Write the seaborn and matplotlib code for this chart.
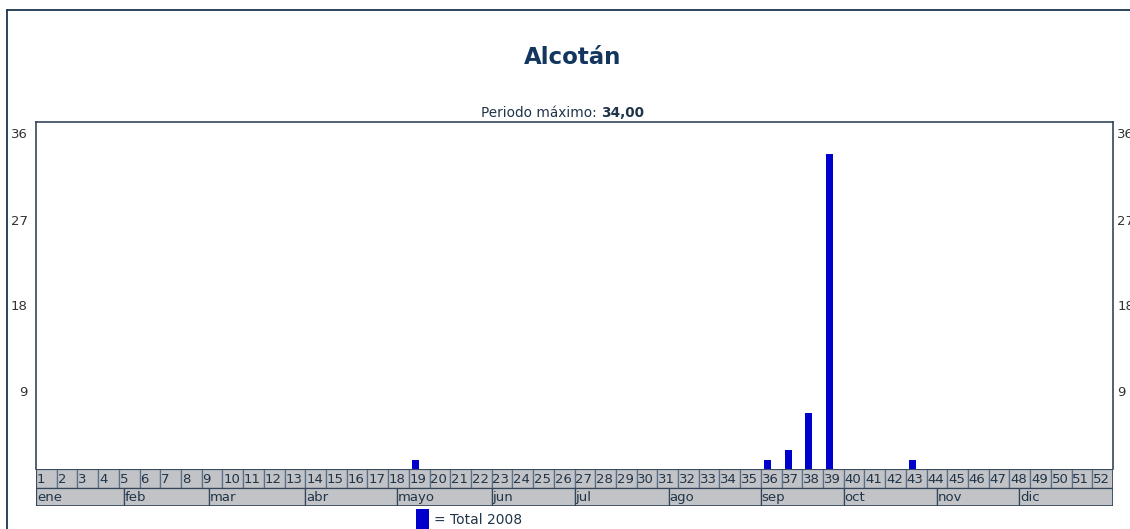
import numpy as np
import pandas as pd
import seaborn as sns
import matplotlib
matplotlib.use("Agg")
import matplotlib.pyplot as plt
from matplotlib.patches import Rectangle
from matplotlib.lines import Line2D

# ---------------- data ----------------
title = "Alcotán"
series_label = "= Total 2008"
max_label = "Periodo máximo: "
max_value = "34,00"
weeks = list(range(1, 53))
obs = {19: 1, 36: 1, 37: 2, 38: 6, 39: 34, 43: 1}
values = [obs.get(w, 0) for w in weeks]
y_ticks = [9, 18, 27, 36]
months = ["ene", "feb", "mar", "abr", "mayo", "jun", "jul", "ago", "sep", "oct", "nov", "dic"]
# month starts expressed in week-axis units (cell k spans k-0.5 .. k+0.5)
month_starts = [0.5, 4.76, 8.83, 13.5, 17.95, 22.5, 26.5, 31.05, 35.5, 39.5, 44.0, 47.98]

# ---------------- style ----------------
W, H = 1130, 529
BAR_COLOR = "#0000CC"
NAVY = "#1b3550"
BORDER = "#34465c"
CELL = "#c2c3c6"
TEXT = "#203448"
LABEL_DROP = {36: 0, 27: 2.5, 18: 3.6, 9: 4.7}  # label offset in points

sns.set_theme(style="white")
plt.rcParams["font.family"] = ["DejaVu Sans"]

fig = plt.figure(figsize=(W / 100, H / 100), dpi=100)
fig.patch.set_facecolor("white")

def fx(px):
    return px / W

def fy(py):
    return 1 - py / H

left_px, right_px, top_px, bot_px = 36, 1113, 122, 469
ax = fig.add_axes([fx(left_px), fy(bot_px), fx(right_px - left_px), (bot_px - top_px) / H])

df = pd.DataFrame({"week": weeks, "value": values})
df["pos"] = df["week"] - 0.19
sns.barplot(data=df, x="pos", y="value", native_scale=True, width=0.34,
            color=BAR_COLOR, saturation=1, linewidth=0, ax=ax)

ax.set_xlim(0.5, 52.5)
ax.set_ylim(0, 37.4)
ax.set_xticks([])
ax.set_yticks([])
ax.set_xlabel("")
ax.set_ylabel("")
for s in ["left", "top", "right"]:
    ax.spines[s].set_visible(True)
    ax.spines[s].set_color(BORDER)
    ax.spines[s].set_linewidth(1.2)
ax.spines["bottom"].set_visible(False)

# y labels on both sides (offset slightly down like the reference)
for t in y_ticks:
    d = LABEL_DROP[t]
    ax.annotate(str(t), xy=(0, t), xycoords=("axes fraction", "data"),
                xytext=(-6, -d), textcoords="offset points",
                ha="right", va="center", fontsize=9.5, color="#333333")
    ax.annotate(str(t), xy=(1, t), xycoords=("axes fraction", "data"),
                xytext=(3, -d), textcoords="offset points",
                ha="left", va="center", fontsize=9.5, color="#333333",
                annotation_clip=False)

# ---------------- week / month table ----------------
tab_top, tab_bot = 469, 506
tax = fig.add_axes([fx(left_px), fy(tab_bot), fx(right_px - left_px), (tab_bot - tab_top) / H])
tax.set_xlim(0.5, 52.5)
tax.set_ylim(0, 2)
tax.axis("off")
for w in weeks:
    tax.add_patch(Rectangle((w - 0.5, 1), 1, 1, facecolor=CELL, edgecolor="#5a6f88",
                            linewidth=0.9))
    tax.text(w - 0.46, 1.45, str(w), ha="left", va="center", fontsize=9.5, color=TEXT)
ends = month_starts[1:] + [52.5]
for m, s, e in zip(months, month_starts, ends):
    tax.add_patch(Rectangle((s, 0), e - s, 1, facecolor=CELL, edgecolor=BORDER,
                            linewidth=0.9))
    tax.text(s + 0.04, 0.45, m, ha="left", va="center", fontsize=9.5, color=TEXT)
tax.add_patch(Rectangle((0.5, 0), 52, 2, facecolor="none", edgecolor=BORDER, linewidth=1.2))

# ---------------- titles ----------------
fig.text(fx(573), fy(57), title, ha="center", va="center", fontsize=16.5,
         fontweight="bold", color="#12365e")
t1 = fig.text(fx(481), fy(113), max_label, ha="left", va="center", fontsize=9.8, color=TEXT)
fig.canvas.draw()
bb = t1.get_window_extent(renderer=fig.canvas.get_renderer())
fig.text(bb.x1 / W, fy(113), max_value, ha="left", va="center", fontsize=9.8,
         fontweight="bold", color=TEXT)

# ---------------- legend ----------------
fig.patches.append(Rectangle((fx(416), fy(529)), fx(13), 20 / H, facecolor=BAR_COLOR,
                             edgecolor="none", transform=fig.transFigure, figure=fig))
fig.text(fx(434), fy(520), series_label, ha="left", va="center", fontsize=10, color=TEXT)

# ---------------- outer frame ----------------
fig.add_artist(Line2D([fx(7), fx(7)], [fy(10), 0], color=NAVY, linewidth=1.3,
                      transform=fig.transFigure))
fig.add_artist(Line2D([fx(7), 1], [fy(10), fy(10)], color=NAVY, linewidth=1.3,
                      transform=fig.transFigure))

fig.savefig("out.png", dpi=100, facecolor="white")
